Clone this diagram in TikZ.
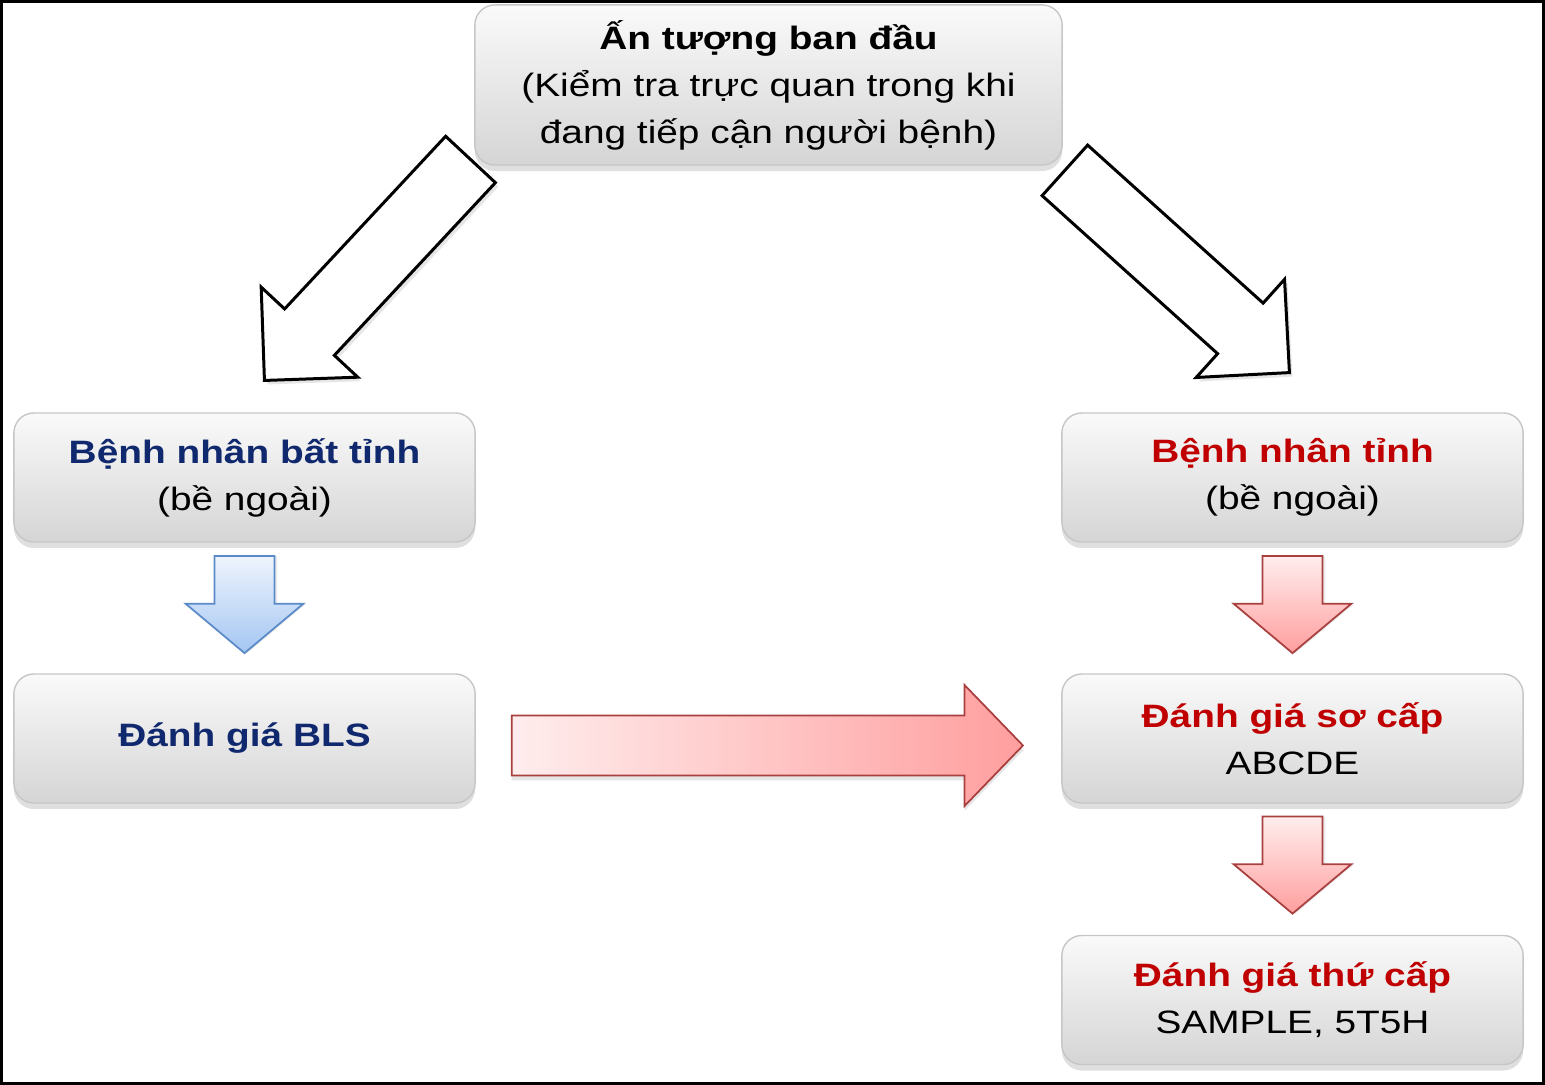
\documentclass[tikz,border=0pt]{standalone}
\usepackage{fontspec}
\setmainfont{Liberation Sans}[FakeStretch=1.2]
\usetikzlibrary{calc,positioning,shapes.arrows,shadows}
\definecolor{darkblue}{RGB}{16,40,110}
\definecolor{darkred}{RGB}{192,0,0}
\definecolor{paleblue}{RGB}{238,244,253}
\definecolor{softblue}{RGB}{164,198,242}
\definecolor{edgeblue}{RGB}{90,138,200}
\tikzset{
    boxnode/.style={
        rectangle,
        rounded corners=2mm,
        draw=gray!45,
        top color=gray!4,
        bottom color=gray!33,
        minimum width=46.1mm,
        minimum height=12.9mm,
        inner sep=0pt,
        align=center,
        font=\fontsize{9.2}{13.4}\selectfont,
        drop shadow={opacity=0.25, shadow xshift=0pt, shadow yshift=-0.6mm}
    },
    hollowarrow/.style={
        single arrow,
        anchor=tip,
        draw=black, line width=0.85pt,
        fill=white,
        minimum height=30.2mm,
        inner xsep=0pt,
        inner ysep=3.25mm,
        single arrow head extend=3.2mm,
        single arrow tip angle=90,
        drop shadow={opacity=0.2, shadow xshift=0.3mm, shadow yshift=-0.4mm}
    },
    downarrow/.style={
        single arrow,
        anchor=tip,
        rotate=270,
        minimum height=9.7mm,
        inner xsep=0pt,
        inner ysep=2.9mm,
        single arrow head extend=2.9mm,
        single arrow tip angle=100,
        line width=0.5pt,
        drop shadow={opacity=0.15, shadow xshift=0.3mm, shadow yshift=0pt}
    },
    redfill/.style={draw=red!55!black!75, left color=red!7, right color=red!38},
    reddown/.style={draw=red!55!black!75, top color=red!7, bottom color=red!38},
    bluedown/.style={draw=edgeblue, top color=paleblue, bottom color=softblue}
}
\begin{document}
\begin{tikzpicture}[x=0.01cm, y=-0.01cm]
    \useasboundingbox (0,0) rectangle (1545,1085);

    \node[boxnode, minimum width=58.7mm, minimum height=16mm] (start) at (768.5,85)
        {\textbf{Ấn tượng ban đầu}\\(Kiểm tra trực quan trong khi\\đang tiếp cận người bệnh)};

    \node[boxnode] (unconscious) at (244.5,477.5)
        {\textbf{\textcolor{darkblue}{Bệnh nhân bất tỉnh}}\\(bề ngoài)};
    \node[boxnode] (bls) at (244.5,738.5)
        {\textbf{\textcolor{darkblue}{Đánh giá BLS}}};

    \node[boxnode] (conscious) at (1292.5,477.5)
        {\textbf{\textcolor{darkred}{Bệnh nhân tỉnh}}\\(bề ngoài)};
    \node[boxnode] (primary) at (1292.5,738.5)
        {\textbf{\textcolor{darkred}{Đánh giá sơ cấp}}\\ABCDE};
    \node[boxnode] (secondary) at (1292.5,1000)
        {\textbf{\textcolor{darkred}{Đánh giá thứ cấp}}\\SAMPLE, 5T5H};

    \node[hollowarrow, rotate=227] (to unconscious) at (263,382) {};
    \node[hollowarrow, rotate=-42] (to conscious) at (1291,374) {};

    \node[downarrow, bluedown] (bls arrow) at ($(bls.north)+(0,-19)$) {};
    \node[downarrow, reddown] (primary arrow) at ($(primary.north)+(0,-19)$) {};
    \node[downarrow, reddown] (secondary arrow) at ($(secondary.north)+(0,-20)$) {};

    \node[single arrow, anchor=tip, redfill, line width=0.5pt,
          minimum height=51.1mm,
          inner xsep=0pt, inner ysep=2.9mm,
          single arrow head extend=3.05mm, single arrow tip angle=92,
          drop shadow={opacity=0.2, shadow xshift=0pt, shadow yshift=-0.5mm}]
          (bridge) at ($(primary.west)+(-37,7)$) {};

    \draw[line width=0.8pt] (1.5,1.5) rectangle (1543.5,1083.5);
\end{tikzpicture}
\end{document}
